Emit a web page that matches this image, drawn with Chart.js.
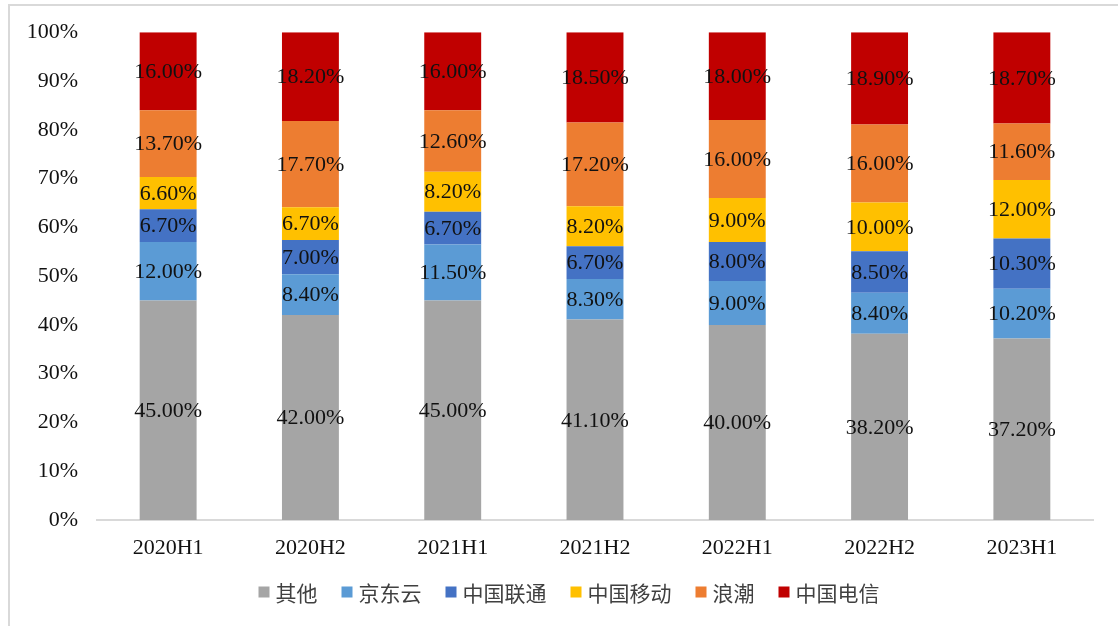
<!DOCTYPE html>
<html>
<head>
<meta charset="utf-8">
<script src="https://cdn.jsdelivr.net/npm/chart.js@4/dist/chart.umd.min.js"></script>
<style>
    html, body { margin: 0; padding: 0; background: #fff; overflow: hidden; }
    #frame {
        position: absolute; left: 8px; top: 4px; width: 1200px; height: 700px;
        border-top: 2px solid #d9d9d9; border-left: 2px solid #d9d9d9;
    }
    #wrap { position: absolute; left: 0; top: 0; width: 1118px; height: 626px; }
</style>
</head>
<body>
<div id="frame"></div>
<div id="wrap"><canvas id="shareChart"></canvas></div>
<script>
const categories = ['2020H1', '2020H2', '2021H1', '2021H2', '2022H1', '2022H2', '2023H1'];
const seriesNames = ['其他', '京东云', '中国联通', '中国移动', '浪潮', '中国电信'];
const otherVals   = [45.0, 42.0, 45.0, 41.1, 40.0, 38.2, 37.2];
const jdCloudVals = [12.0, 8.4, 11.5, 8.3, 9.0, 8.4, 10.2];
const unicomVals  = [6.7, 7.0, 6.7, 6.7, 8.0, 8.5, 10.3];
const mobileVals  = [6.6, 6.7, 8.2, 8.2, 9.0, 10.0, 12.0];
const inspurVals  = [13.7, 17.7, 12.6, 17.2, 16.0, 16.0, 11.6];
const telecomVals = [16.0, 18.2, 16.0, 18.5, 18.0, 18.9, 18.7];
const seriesColors = ['#a5a5a5', '#5b9bd5', '#4472c4', '#ffc000', '#ed7d31', '#c00000'];

const serif = "'Liberation Serif', 'Times New Roman', serif";

document.addEventListener('DOMContentLoaded', () => {
    const allVals = [otherVals, jdCloudVals, unicomVals, mobileVals, inspurVals, telecomVals];

    const datasets = seriesNames.map((name, i) => ({
        label: name,
        data: allVals[i],
        backgroundColor: seriesColors[i],
        borderWidth: 0,
        barPercentage: 0.4,
        categoryPercentage: 1.0
    }));

    // value labels centred in every segment
    const segmentLabels = {
        id: 'segmentLabels',
        afterDatasetsDraw(chart) {
            const ctx = chart.ctx;
            ctx.save();
            ctx.font = '22px ' + serif;
            ctx.fillStyle = '#111';
            ctx.textAlign = 'center';
            ctx.textBaseline = 'middle';
            chart.data.datasets.forEach((ds, di) => {
                const meta = chart.getDatasetMeta(di);
                meta.data.forEach((bar, j) => {
                    const y = (bar.y + bar.base) / 2;
                    ctx.fillText(ds.data[j].toFixed(2) + '%', bar.x, y + 1);
                });
            });
            ctx.restore();
        }
    };

    // legend drawn by hand so the marker/text gaps match
    const bottomLegend = {
        id: 'bottomLegend',
        afterDraw(chart) {
            const ctx = chart.ctx;
            const box = 11, gapText = 6, gapItem = 24;
            const centerX = 569, centerY = 592;
            ctx.save();
            ctx.font = "21px 'Noto Sans CJK SC', sans-serif";
            ctx.textBaseline = 'middle';
            ctx.textAlign = 'left';
            const widths = seriesNames.map(n => ctx.measureText(n).width);
            let total = 0;
            widths.forEach((w, i) => {
                total += box + gapText + w + (i < widths.length - 1 ? gapItem : 0);
            });
            let x = centerX - total / 2;
            seriesNames.forEach((name, i) => {
                ctx.fillStyle = seriesColors[i];
                ctx.fillRect(x, centerY - box / 2, box, box);
                x += box + gapText;
                ctx.fillStyle = '#404040';
                ctx.fillText(name, x, centerY + 1);
                x += widths[i] + gapItem;
            });
            ctx.restore();
        }
    };

    const ctx = document.getElementById('shareChart').getContext('2d');
    new Chart(ctx, {
        type: 'bar',
        data: { labels: categories, datasets: datasets },
        options: {
            responsive: true,
            maintainAspectRatio: false,
            animation: false,
            layout: { padding: { left: 0, right: 25, top: 24, bottom: 58 } },
            plugins: {
                tooltip: { enabled: false },
                legend: { display: false }
            },
            scales: {
                x: {
                    stacked: true,
                    grid: { display: false, drawTicks: false },
                    border: { display: true, color: '#d9d9d9', width: 2 },
                    ticks: { color: '#111', padding: 15, font: { family: serif, size: 22 } },
                    afterFit: (scale) => { scale.height = 48; }
                },
                y: {
                    stacked: true,
                    min: 0,
                    max: 100,
                    grid: { display: false, drawTicks: false },
                    border: { display: false },
                    ticks: {
                        stepSize: 10,
                        padding: 19,
                        color: '#111',
                        font: { family: serif, size: 22 },
                        callback: (v) => v + '%'
                    },
                    afterFit: (scale) => { scale.width = 97; }
                }
            }
        },
        plugins: [segmentLabels, bottomLegend]
    });
});
</script>
</body>
</html>
